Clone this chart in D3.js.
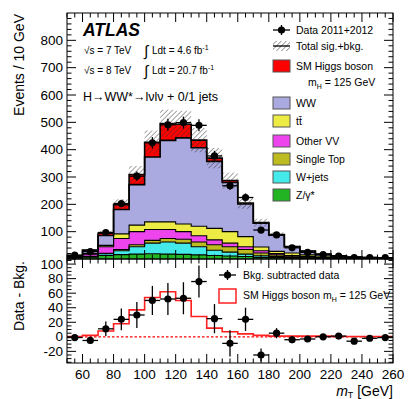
<!DOCTYPE html>
<html>
<head>
<meta charset="utf-8">
<script src="https://cdn.jsdelivr.net/npm/d3@7"></script>
<style>
  body { margin: 0; background: #fff; }
  text { font-family: "Liberation Sans", Arial, Helvetica, sans-serif; fill: #000; }
</style>
</head>
<body>
<svg width="415" height="399"></svg>
<script>
  // bin edges of m_T [GeV]
  const edges = [50, 60, 70, 80, 90, 100, 110, 120, 130, 140, 150, 160, 170, 180, 190, 200, 210, 220, 230, 240, 250, 260];
  const centers = [55, 65, 75, 85, 95, 105, 115, 125, 135, 145, 155, 165, 175, 185, 195, 205, 215, 225, 235, 245, 255];

  // backgrounds, bottom of the stack first
  const zjets  = [4, 7, 13, 16, 18, 19, 18, 17, 15, 13, 11, 9, 6, 5, 3, 2, 1.5, 1, 0.8, 0.6, 0.5];
  const wjets  = [1, 2, 6, 14, 27, 39, 44, 41, 30, 19, 14, 9, 6, 4, 3, 2, 1.5, 1, 0.7, 0.4, 0.3];
  const stop   = [0.5, 1, 2, 5, 7, 10, 13, 14, 17, 20, 20, 17, 10, 6, 4, 3, 2, 1, 0.5, 0.5, 0.4];
  const otherVV = [2.5, 8, 24, 40, 48, 40, 33, 28, 23, 18, 13, 10, 8, 5, 3, 2, 1, 1, 0.6, 0.5, 0.3];
  const ttbar  = [0.5, 2, 5, 17, 24, 28, 28, 28, 35, 42, 42, 37, 14, 8, 9, 6, 5, 3, 2.4, 1.5, 1];
  const ww     = [3.5, 11, 36, 89, 148, 237, 298, 315, 287, 245, 180, 119, 87, 60, 23, 13, 6, 4, 2, 1.5, 1.5];
  const higgs  = [0.5, 2, 8, 18, 37, 54, 62, 50, 28, 12, 7, 4, 2, 1, 1, 1, 1, 0.5, 0.5, 0.5, 0.5];

  // total uncertainty on sig.+bkg.
  const totUnc = [2, 4, 9, 20, 31, 43, 50, 49, 44, 37, 29, 21, 14, 9, 5, 3, 2, 1.5, 1, 1, 1];

  const dataVals = [14, 27, 97, 203, 303, 425, 491, 499, 489, 377, 268, 225, 106, 88, 41, 24, 16, 11, 5, 5, 5];
  const dataErr  = [4, 5, 10, 14, 17, 21, 22, 22, 22, 19, 16, 15, 10, 9, 6, 5, 4, 3, 2, 2, 2];

  const diffVals = [-1, -5, 11, 24, 30, 50, 52, 53, 76, 25, -9, 24, -25, 5, -4, -3, 0, 1, -6, -2, -1];
  const diffErr  = [3, 5, 10, 15, 18, 20, 22, 22, 22, 20, 18, 16, 9, 7, 5, 4, 4, 3, 3, 3, 3];

  const layers = [
    { name: "Z/γ*",       vals: zjets,   color: "#22b422" },
    { name: "W+jets",     vals: wjets,   color: "#44eaea" },
    { name: "Single Top", vals: stop,    color: "#bcbc20" },
    { name: "Other VV",   vals: otherVV, color: "#ee44ee" },
    { name: "tt̄",         vals: ttbar,   color: "#ecec44" },
    { name: "WW",         vals: ww,      color: "#aaaae0" },
    { name: "SM Higgs",   vals: higgs,   color: "#ff0000" }
  ];

  const svg = d3.select("svg");

  const x = d3.scaleLinear().domain([50, 260]).range([67, 393]);
  const yTop = d3.scaleLinear().domain([0, 900]).range([259, 13]);
  const yBot = d3.scaleLinear().domain([-36, 107]).range([363, 259]);

  // hatch pattern
  const defs = svg.append("defs");
  const pat = defs.append("pattern")
    .attr("id", "hatch").attr("patternUnits", "userSpaceOnUse")
    .attr("width", 3.5).attr("height", 3.5)
    .attr("patternTransform", "rotate(45)");
  pat.append("line").attr("x1", 0).attr("y1", 0).attr("x2", 0).attr("y2", 3.5)
    .attr("stroke", "#333").attr("stroke-width", 0.9);

  defs.append("clipPath").attr("id", "clipTop")
    .append("rect").attr("x", 67).attr("y", 13).attr("width", 326).attr("height", 246);
  defs.append("clipPath").attr("id", "clipBot")
    .append("rect").attr("x", 67).attr("y", 259).attr("width", 326).attr("height", 104);

  // stack
  const rows = centers.map((c, i) => {
    const r = {};
    layers.forEach(l => r[l.name] = l.vals[i]);
    return r;
  });
  const stacked = d3.stack().keys(layers.map(l => l.name))(rows);

  const stepArea = d3.area().x(d => x(d[0])).y0(d => yTop(d[1])).y1(d => yTop(d[2]));
  const stepLine = (ys, scale) => {
    let p = "";
    ys.forEach((v, i) => {
      p += (i === 0 ? "M" : "L") + x(edges[i]) + "," + scale(v) + "L" + x(edges[i + 1]) + "," + scale(v);
    });
    return p;
  };

  const gTop = svg.append("g").attr("clip-path", "url(#clipTop)");

  stacked.forEach((s, k) => {
    const pts = [];
    s.forEach((d, i) => {
      pts.push([edges[i], d[0], d[1]]);
      pts.push([edges[i + 1], d[0], d[1]]);
    });
    gTop.append("path").attr("d", stepArea(pts)).attr("fill", layers[k].color);
  });
  // outlines of each layer (step with verticals)
  stacked.forEach((s, k) => {
    gTop.append("path")
      .attr("d", stepLine(s.map(d => d[1]), yTop) + "L" + x(260) + "," + yTop(0))
      .attr("fill", "none").attr("stroke", "#000")
      .attr("stroke-width", k >= 5 ? 1.6 : 1.1);
  });

  // uncertainty band
  const total = stacked[stacked.length - 1].map(d => d[1]);
  const bandPts = [];
  total.forEach((t, i) => {
    bandPts.push([edges[i], t - totUnc[i], t + totUnc[i]]);
    bandPts.push([edges[i + 1], t - totUnc[i], t + totUnc[i]]);
  });
  gTop.append("path").attr("d", stepArea(bandPts)).attr("fill", "url(#hatch)");

  // data points
  const drawPoints = (g, vals, errs, scale) => {
    vals.forEach((v, i) => {
      g.append("line").attr("x1", x(edges[i])).attr("x2", x(edges[i + 1]))
        .attr("y1", scale(v)).attr("y2", scale(v)).attr("stroke", "#000").attr("stroke-width", 1.3);
      g.append("line").attr("x1", x(centers[i])).attr("x2", x(centers[i]))
        .attr("y1", scale(v - errs[i])).attr("y2", scale(v + errs[i])).attr("stroke", "#000").attr("stroke-width", 1.3);
      g.append("circle").attr("cx", x(centers[i])).attr("cy", scale(v)).attr("r", 3.6).attr("fill", "#000");
    });
  };
  drawPoints(gTop, dataVals, dataErr, yTop);

  // bottom panel
  const gBot = svg.append("g").attr("clip-path", "url(#clipBot)");
  gBot.append("line").attr("x1", x(50)).attr("x2", x(260)).attr("y1", yBot(0)).attr("y2", yBot(0))
    .attr("stroke", "#ff0000").attr("stroke-width", 1.2).attr("stroke-dasharray", "2.5,2");
  gBot.append("path").attr("d", stepLine(higgs, yBot)).attr("fill", "none")
    .attr("stroke", "#ff2020").attr("stroke-width", 1.6);
  drawPoints(gBot, diffVals, diffErr, yBot);

  // frames and ticks
  const frame = (y0, y1) => svg.append("rect").attr("x", 67).attr("y", y0).attr("width", 326).attr("height", y1 - y0)
    .attr("fill", "none").attr("stroke", "#000").attr("stroke-width", 1);
  frame(13, 259);
  frame(259, 363);

  const tickG = svg.append("g").attr("stroke", "#000").attr("stroke-width", 1);
  const xMinor = d3.range(50, 260.1, 5);
  const panels = [[13, 259], [259, 363]];
  panels.forEach(([t, b]) => {
    xMinor.forEach(v => {
      const L = (v - 60) % 20 === 0 ? 9 : 4.5;
      tickG.append("line").attr("x1", x(v)).attr("x2", x(v)).attr("y1", b).attr("y2", b - L);
      tickG.append("line").attr("x1", x(v)).attr("x2", x(v)).attr("y1", t).attr("y2", t + L);
    });
  });
  const yTicks = (scale, lo, hi, minorStep, majorStep) => {
    for (let v = lo; v <= hi + 1e-6; v += minorStep) {
      const L = Math.abs(v % majorStep) < 1e-6 ? 9 : 4.5;
      const yy = scale(v);
      tickG.append("line").attr("x1", 67).attr("x2", 67 + L).attr("y1", yy).attr("y2", yy);
      tickG.append("line").attr("x1", 393).attr("x2", 393 - L).attr("y1", yy).attr("y2", yy);
    }
  };
  yTicks(yTop, 0, 880, 20, 100);
  yTicks(yBot, -35, 105, 5, 20);

  // tick labels
  const topLabels = [100, 200, 300, 400, 500, 600, 700, 800];
  topLabels.forEach(v => svg.append("text").attr("x", 63).attr("y", yTop(v) + 4.6)
    .attr("text-anchor", "end").attr("font-size", 13.5).text(v));
  const botLabels = [-20, 0, 20, 40, 60, 80, 100];
  botLabels.forEach(v => svg.append("text").attr("x", 63).attr("y", yBot(v) + 4.6)
    .attr("text-anchor", "end").attr("font-size", 13.5).text(v));
  const xLabels = [60, 80, 100, 120, 140, 160, 180, 200, 220, 240, 260];
  xLabels.forEach(v => svg.append("text").attr("x", x(v)).attr("y", 379)
    .attr("text-anchor", "middle").attr("font-size", 13.5).text(v));

  // axis titles
  svg.append("text").attr("transform", "translate(24,14) rotate(-90)")
    .attr("text-anchor", "end").attr("font-size", 14).text("Events / 10 GeV");
  svg.append("text").attr("transform", "translate(24,261) rotate(-90)")
    .attr("text-anchor", "end").attr("font-size", 14).text("Data - Bkg.");
  const xt = svg.append("text").attr("x", 393).attr("y", 395.5).attr("text-anchor", "end").attr("font-size", 14);
  xt.append("tspan").attr("font-style", "italic").text("m");
  xt.append("tspan").attr("font-size", 9).attr("dy", 2.5).text("T");
  xt.append("tspan").attr("dy", -2.5).text(" [GeV]");

  // ATLAS labels
  svg.append("text").attr("x", 83).attr("y", 36).attr("font-size", 17.5)
    .attr("font-weight", "bold").attr("font-style", "italic").text("ATLAS");
  const lumiLine = (yy, s, lumi) => {
    svg.append("text").attr("x", 84).attr("y", yy).attr("font-size", 10).text("√s = " + s + " TeV");
    svg.append("text").attr("x", 144).attr("y", yy + 1.5).attr("font-size", 15).text("∫");
    const t = svg.append("text").attr("x", 152).attr("y", yy).attr("font-size", 10);
    t.append("tspan").text("Ldt = " + lumi + " fb");
    t.append("tspan").attr("font-size", 7).attr("dy", -4).text("-1");
  };
  lumiLine(54, "7", "4.6");
  lumiLine(74, "8", "20.7");
  svg.append("text").attr("x", 83).attr("y", 101).attr("font-size", 12.5).text("H→WW*→lνlν + 0/1 jets");

  // legend top
  const lg = svg.append("g");
  const lx = 273, lw = 17, tx = 296, fs = 10.5;
  lg.append("line").attr("x1", lx).attr("x2", lx + lw).attr("y1", 30).attr("y2", 30).attr("stroke", "#000").attr("stroke-width", 1.3);
  lg.append("line").attr("x1", lx + lw / 2).attr("x2", lx + lw / 2).attr("y1", 25).attr("y2", 35).attr("stroke", "#000").attr("stroke-width", 1.3);
  lg.append("circle").attr("cx", lx + lw / 2).attr("cy", 30).attr("r", 3.6).attr("fill", "#000");
  lg.append("text").attr("x", tx).attr("y", 30 + 3.8).attr("font-size", fs).text("Data 2011+2012");
  lg.append("rect").attr("x", lx).attr("y", 41).attr("width", lw).attr("height", 10).attr("fill", "url(#hatch)");
  lg.append("line").attr("x1", lx).attr("x2", lx + lw).attr("y1", 46).attr("y2", 46).attr("stroke", "#000").attr("stroke-width", 1.3);
  lg.append("text").attr("x", tx).attr("y", 46 + 3.8).attr("font-size", fs).text("Total sig.+bkg.");
  lg.append("rect").attr("x", lx).attr("y", 60).attr("width", lw).attr("height", 12).attr("fill", "#ff0000").attr("stroke", "#555");
  lg.append("text").attr("x", tx).attr("y", 66 + 3.8).attr("font-size", fs).text("SM Higgs boson");
  const mh = lg.append("text").attr("x", 308).attr("y", 86).attr("font-size", fs);
  mh.append("tspan").text("m");
  mh.append("tspan").attr("font-size", 7).attr("dy", 3).text("H");
  mh.append("tspan").attr("dy", -3).text(" = 125 GeV");
  const entries = [
    { name: "WW", color: "#aaaae0", y: 103 },
    { name: "tt̄", color: "#ecec44", y: 121 },
    { name: "Other VV", color: "#ee44ee", y: 141 },
    { name: "Single Top", color: "#bcbc20", y: 159 },
    { name: "W+jets", color: "#44eaea", y: 177 },
    { name: "Z/γ*", color: "#22b422", y: 195 }
  ];
  entries.forEach(e => {
    lg.append("rect").attr("x", lx).attr("y", e.y - 6).attr("width", lw).attr("height", 12)
      .attr("fill", e.color).attr("stroke", "#555");
    lg.append("text").attr("x", tx).attr("y", e.y + 3.8).attr("font-size", fs).text(e.name);
  });

  // legend bottom
  const bx = 219;
  lg.append("line").attr("x1", bx).attr("x2", bx + lw).attr("y1", 275).attr("y2", 275).attr("stroke", "#000").attr("stroke-width", 1.3);
  lg.append("line").attr("x1", bx + lw / 2).attr("x2", bx + lw / 2).attr("y1", 270).attr("y2", 280).attr("stroke", "#000").attr("stroke-width", 1.3);
  lg.append("circle").attr("cx", bx + lw / 2).attr("cy", 275).attr("r", 3.6).attr("fill", "#000");
  lg.append("text").attr("x", 243).attr("y", 275 + 3.8).attr("font-size", fs).text("Bkg. subtracted data");
  lg.append("rect").attr("x", bx).attr("y", 289).attr("width", lw).attr("height", 14)
    .attr("fill", "none").attr("stroke", "#ff2020").attr("stroke-width", 1.5);
  const sm = lg.append("text").attr("x", 243).attr("y", 295 + 3.8).attr("font-size", fs);
  sm.append("tspan").text("SM Higgs boson m");
  sm.append("tspan").attr("font-size", 7).attr("dy", 3).text("H");
  sm.append("tspan").attr("dy", -3).text(" = 125 GeV");
</script>
</body>
</html>
